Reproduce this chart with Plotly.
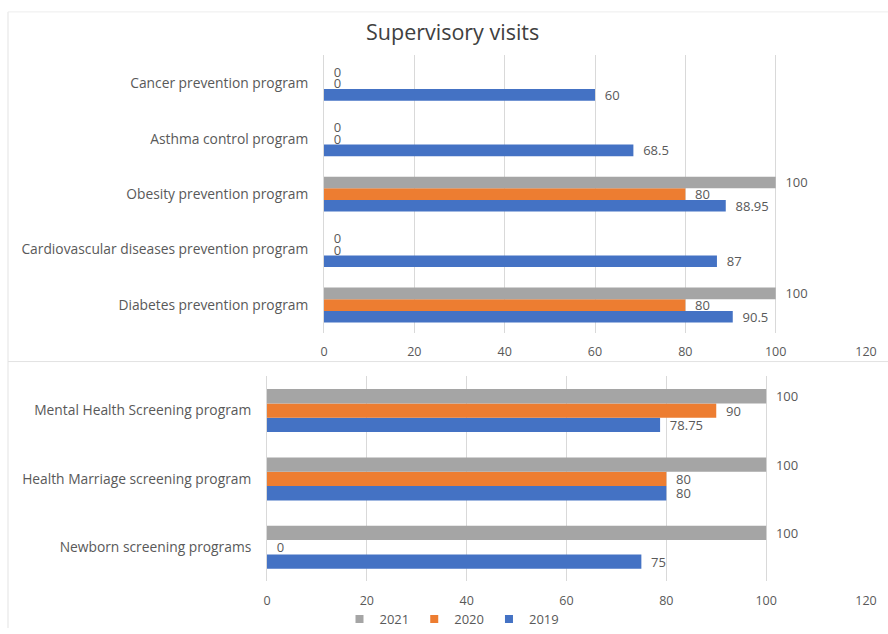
import plotly.graph_objects as go

# Top panel: prevention programs (listed bottom to top)
top_programs = [
    "Diabetes prevention program",
    "Cardiovascular diseases prevention program",
    "Obesity prevention program",
    "Asthma control program",
    "Cancer prevention program",
]
top_2019 = [90.5, 87, 88.95, 68.5, 60]
top_2020 = [80, 0, 80, 0, 0]
top_2021 = [100, 0, 100, 0, 0]

# Bottom panel: screening programs (listed bottom to top)
bottom_programs = [
    "Newborn screening programs",
    "Health Marriage screening program",
    "Mental Health Screening program",
]
bottom_2019 = [75, 80, 78.75]
bottom_2020 = [0, 80, 90]
bottom_2021 = [100, 100, 100]

x_ticks = [0, 20, 40, 60, 80, 100, 120]

years = ["2019", "2020", "2021"]
colors = {"2019": "#4472C4", "2020": "#ED7D31", "2021": "#A5A5A5"}

W, H = 888, 634
TEXT = "#595959"
GRID = "#D9D9D9"
FONT = "Open Sans"
PAD = "\u00a0\u00a0"


def fx(px):
    return px / W


def fy(py):
    return 1 - py / H


fig = go.Figure()

top_series = {"2019": top_2019, "2020": top_2020, "2021": top_2021}
bottom_series = {"2019": bottom_2019, "2020": bottom_2020, "2021": bottom_2021}


def add_bars(cats, series, xa, ya):
    for yr in years:
        fig.add_trace(go.Bar(
            y=cats, x=series[yr], orientation="h", name=yr,
            marker=dict(color=colors[yr], line=dict(width=0)),
            text=[PAD + f"{v:g}" for v in series[yr]], textposition="outside",
            textfont=dict(family=FONT, size=13, color=TEXT),
            constraintext="none", cliponaxis=False,
            xaxis=xa, yaxis=ya, legendgroup=yr, showlegend=False,
            hoverinfo="skip",
        ))


add_bars(top_programs, top_series, "x", "y")
add_bars(bottom_programs, bottom_series, "x2", "y2")

# legend entries with small square swatches
for yr in years:
    fig.add_trace(go.Scatter(
        x=[None], y=[None], mode="markers", name=yr,
        marker=dict(symbol="square", size=8, color=colors[yr]),
        xaxis="x2", yaxis="y2", legendgroup=yr, showlegend=True,
        hoverinfo="skip",
    ))

xaxis_common = dict(
    range=[0, 120], tickvals=x_ticks, showgrid=True, gridcolor=GRID, gridwidth=1,
    zeroline=False, showline=False, ticks="", automargin=False, fixedrange=True,
    ticklabelstandoff=10,
    tickfont=dict(family=FONT, size=12.5, color=TEXT),
)
yaxis_common = dict(
    type="category", showgrid=False, zeroline=False, showline=True,
    linecolor=GRID, linewidth=1, ticks="", automargin=False, fixedrange=True,
    tickfont=dict(family=FONT, size=13.8, color=TEXT),
)

fig.update_layout(
    width=W, height=H,
    margin=dict(l=0, r=0, t=0, b=0),
    paper_bgcolor="white", plot_bgcolor="white",
    barmode="group", bargap=0.37, bargroupgap=0,
    xaxis=dict(domain=[fx(324), fx(866)], anchor="y", **xaxis_common),
    yaxis=dict(domain=[fy(336), fy(56)], anchor="x", ticklabelstandoff=12,
               **yaxis_common),
    xaxis2=dict(domain=[fx(267), fx(866)], anchor="y2", **xaxis_common),
    yaxis2=dict(domain=[fy(587), fy(380)], anchor="x2", ticklabelstandoff=12,
                **yaxis_common),
    showlegend=True,
    legend=dict(
        orientation="h", x=fx(452), xanchor="center", y=fy(625), yanchor="middle",
        traceorder="reversed", font=dict(family=FONT, size=13, color=TEXT),
        itemwidth=30, bgcolor="rgba(0,0,0,0)", tracegroupgap=0,
    ),
    annotations=[dict(
        text="Supervisory visits", x=fx(453), y=fy(32), xref="paper", yref="paper",
        xanchor="center", yanchor="middle", showarrow=False,
        font=dict(family=FONT, size=21.5, color="#404040"),
    )],
    shapes=[
        # chart area borders
        dict(type="line", xref="paper", yref="paper", x0=fx(8), x1=fx(8),
             y0=fy(12), y1=0, line=dict(color="#E3E3E3", width=1)),
        dict(type="line", xref="paper", yref="paper", x0=fx(8), x1=1,
             y0=fy(12), y1=fy(12), line=dict(color="#EDEDED", width=1)),
        dict(type="line", xref="paper", yref="paper", x0=fx(8), x1=1,
             y0=fy(365), y1=fy(365), line=dict(color="#E3E3E3", width=1)),
    ],
)

fig.write_html("out.html")
